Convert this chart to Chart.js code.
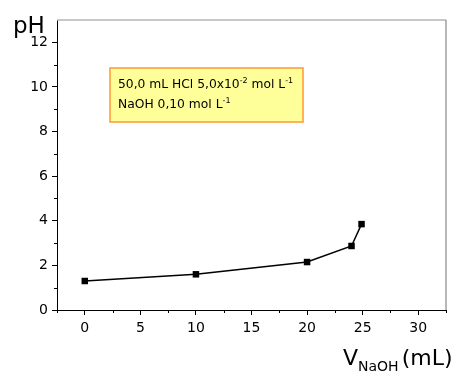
<!DOCTYPE html>
<html>
<head>
<meta charset="utf-8">
<script src="https://cdn.jsdelivr.net/npm/chart.js@4/dist/chart.umd.min.js"></script>
<style>
  html, body { margin: 0; padding: 0; background: #fff; }
  canvas { display: block; }
</style>
</head>
<body>
<canvas id="chart" width="458" height="374"></canvas>
<script>
// ===== Data =====
const volumes = [0, 10, 20, 24, 24.9];
const phValues = [1.3, 1.6, 2.15, 2.87, 3.85];
const xTicks = [0, 5, 10, 15, 20, 25, 30];
const xMinorTicks = [-2.5, 2.5, 7.5, 12.5, 17.5, 22.5, 27.5, 32.5];
const yTicks = [0, 2, 4, 6, 8, 10, 12];
const yMinorTicks = [1, 3, 5, 7, 9, 11];
const noteLine1 = [['50,0 mL HCl 5,0x10', 0], ['-2', -1], [' mol L', 0], ['-1', -1]];
const noteLine2 = [['NaOH 0,10 mol L', 0], ['-1', -1]];

const FONT = "'Comic Sans MS', 'DejaVu Sans', sans-serif";

// draw a line of text with superscript/subscript pieces
function drawRich(ctx, parts, x, y, size) {
  parts.forEach(([text, level]) => {
    const s = level === 0 ? size : size * 0.65;
    const dy = level < 0 ? -size * 0.38 : level > 0 ? size * 0.3 : 0;
    ctx.font = `${s}px ${FONT}`;
    ctx.fillText(text, x, y + dy);
    x += ctx.measureText(text).width;
  });
  return x;
}

// ===== Extras: frame, minor ticks, note box, axis titles =====
const extras = {
  id: 'extras',
  afterDraw(chart) {
    const { ctx, chartArea: a, scales } = chart;
    ctx.save();

    // top and right frame
    ctx.lineWidth = 1.5;
    ctx.strokeStyle = '#b4b4b4';
    ctx.beginPath();
    ctx.moveTo(a.left, a.top);
    ctx.lineTo(a.right, a.top);
    ctx.stroke();
    ctx.strokeStyle = '#707070';
    ctx.lineWidth = 1;
    ctx.beginPath();
    ctx.moveTo(a.right, a.top);
    ctx.lineTo(a.right, a.bottom);
    ctx.stroke();

    // minor ticks
    ctx.strokeStyle = '#000';
    ctx.lineWidth = 1;
    ctx.beginPath();
    yMinorTicks.forEach(v => {
      const py = Math.round(scales.y.getPixelForValue(v)) + 0.5;
      ctx.moveTo(a.left - 3, py);
      ctx.lineTo(a.left, py);
    });
    xMinorTicks.forEach(v => {
      const px = Math.round(scales.x.getPixelForValue(v)) + 0.5;
      ctx.moveTo(px, a.bottom);
      ctx.lineTo(px, a.bottom + 3);
    });
    ctx.stroke();

    // note box
    ctx.fillStyle = '#ffff99';
    ctx.fillRect(110, 68, 193, 54);
    ctx.strokeStyle = '#ff9933';
    ctx.lineWidth = 1.5;
    ctx.strokeRect(110, 68, 193, 54);
    ctx.fillStyle = '#000';
    ctx.textBaseline = 'alphabetic';
    ctx.textAlign = 'left';
    drawRich(ctx, noteLine1, 118, 88, 12.3);
    drawRich(ctx, noteLine2, 118, 108, 12.3);

    // axis titles
    ctx.font = `23px ${FONT}`;
    ctx.fillText('pH', 13, 33);
    let x = 343;
    ctx.font = `22px ${FONT}`;
    ctx.fillText('V', x, 365);
    x += ctx.measureText('V').width;
    ctx.font = `14px ${FONT}`;
    ctx.fillText('NaOH', x, 371);
    x += ctx.measureText('NaOH').width + 3;
    ctx.font = `22px ${FONT}`;
    ctx.fillText('(mL)', x, 365);

    ctx.restore();
  }
};

new Chart(document.getElementById('chart'), {
  type: 'line',
  data: {
    datasets: [{
      data: volumes.map((v, i) => ({ x: v, y: phValues[i] })),
      borderColor: '#000',
      borderWidth: 1.5,
      backgroundColor: '#000',
      pointStyle: 'rect',
      pointRadius: 4.6,
      pointBorderWidth: 0,
      tension: 0,
    }]
  },
  options: {
    responsive: false,
    animation: false,
    devicePixelRatio: 1,
    layout: { padding: { left: 0, top: 20, right: 12, bottom: 0 } },
    plugins: { legend: { display: false }, tooltip: { enabled: false } },
    scales: {
      x: {
        type: 'linear',
        min: -2.5,
        max: 32.5,
        afterBuildTicks: s => { s.ticks = xTicks.map(v => ({ value: v })); },
        afterFit: s => { s.height = 64; },
        grid: { drawOnChartArea: false, tickLength: 5, color: '#000' },
        border: { color: '#000', width: 1 },
        ticks: { color: '#000', font: { size: 14, family: FONT }, padding: 5, maxRotation: 0 }
      },
      y: {
        min: 0,
        max: 13,
        afterBuildTicks: s => { s.ticks = yTicks.map(v => ({ value: v })); },
        afterFit: s => { s.width = 57; },
        grid: { drawOnChartArea: false, tickLength: 5, color: '#000' },
        border: { color: '#000', width: 1 },
        ticks: { color: '#000', font: { size: 14, family: FONT }, padding: 4 }
      }
    }
  },
  plugins: [extras]
});
</script>
</body>
</html>
